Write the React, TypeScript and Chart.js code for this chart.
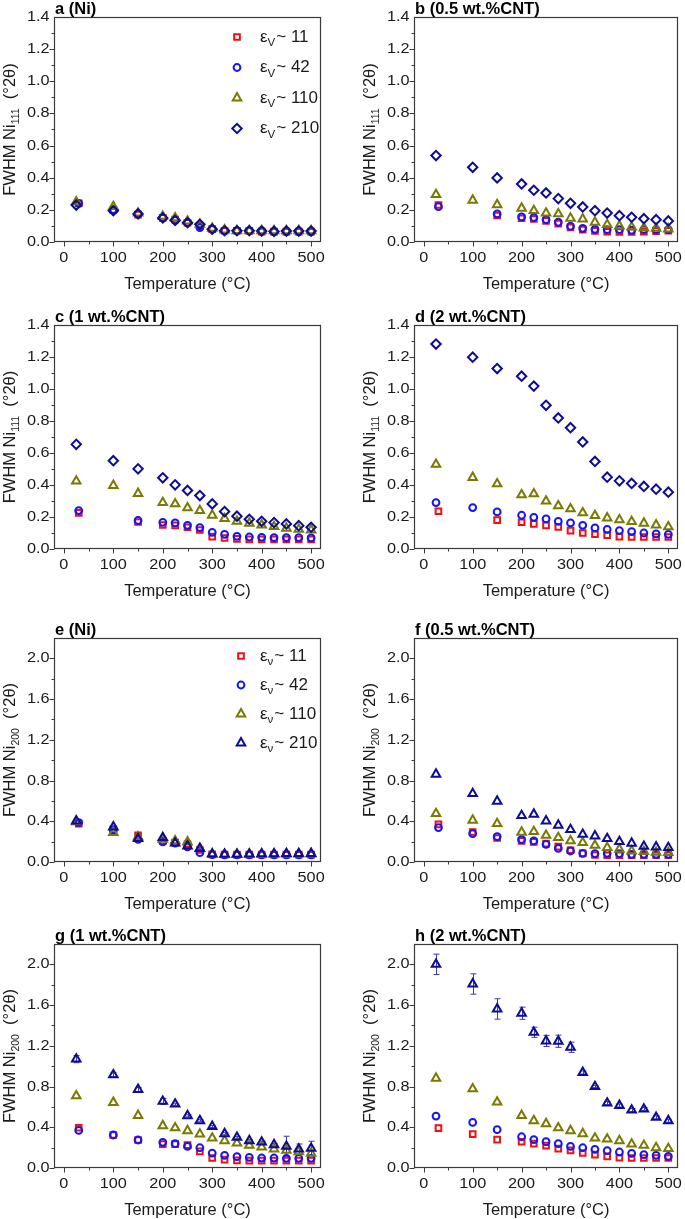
import React, { useEffect, useRef } from "react";
import { Chart, registerables } from "chart.js";

Chart.register(...registerables);

const FONT = '"Liberation Sans", Arial, Helvetica, sans-serif';

// Temperature (°C)
const temps = [25, 100, 150, 200, 225, 250, 275, 300, 325, 350, 375, 400, 425, 450, 475, 500];
const tempsShifted = [30, 100, 150, 200, 225, 250, 275, 300, 325, 350, 375, 400, 425, 450, 475, 500];

const xTickValues = [0, 100, 200, 300, 400, 500];
const yTicks111 = [0, 0.2, 0.4, 0.6, 0.8, 1.0, 1.2, 1.4];
const yTicks200 = [0, 0.4, 0.8, 1.2, 1.6, 2.0];

const strainLabels = ["11", "42", "110", "210"];

// ---- FWHM Ni(111) ----
const a11 = [0.24, 0.2, 0.17, 0.15, 0.14, 0.12, 0.1, 0.08, 0.07, 0.07, 0.07, 0.065, 0.065, 0.065, 0.065, 0.065];
const a42 = [0.24, 0.2, 0.175, 0.15, 0.135, 0.12, 0.09, 0.08, 0.07, 0.07, 0.07, 0.07, 0.065, 0.065, 0.065, 0.065];
const a110 = [0.25, 0.22, 0.18, 0.16, 0.15, 0.13, 0.11, 0.085, 0.075, 0.07, 0.07, 0.07, 0.07, 0.07, 0.07, 0.07];
const a210 = [0.23, 0.195, 0.175, 0.15, 0.135, 0.12, 0.11, 0.08, 0.07, 0.07, 0.07, 0.068, 0.066, 0.068, 0.068, 0.068];

const b11 = [0.23, null, 0.165, 0.148, 0.143, 0.131, 0.114, 0.091, 0.077, 0.069, 0.064, 0.062, 0.062, 0.065, 0.068, 0.07];
const b42 = [0.22, null, 0.175, 0.156, 0.152, 0.139, 0.123, 0.098, 0.085, 0.079, 0.077, 0.077, 0.073, 0.077, 0.077, 0.077];
const b110 = [0.295, 0.26, 0.232, 0.21, 0.195, 0.18, 0.175, 0.148, 0.143, 0.123, 0.108, 0.1, 0.093, 0.087, 0.085, 0.081];
const b210 = [0.538, 0.465, 0.399, 0.361, 0.322, 0.305, 0.27, 0.241, 0.218, 0.195, 0.18, 0.164, 0.154, 0.145, 0.139, 0.131];

const c11 = [0.226, null, 0.169, 0.15, 0.148, 0.136, 0.119, 0.077, 0.069, 0.063, 0.06, 0.06, 0.06, 0.06, 0.06, 0.06];
const c42 = [0.24, null, 0.178, 0.167, 0.163, 0.148, 0.134, 0.104, 0.092, 0.079, 0.075, 0.073, 0.071, 0.071, 0.071, 0.069];
const c110 = [0.424, 0.397, 0.347, 0.29, 0.282, 0.257, 0.24, 0.211, 0.19, 0.173, 0.161, 0.15, 0.14, 0.13, 0.123, 0.119];
const c210 = [0.654, 0.552, 0.501, 0.445, 0.401, 0.366, 0.334, 0.282, 0.234, 0.205, 0.186, 0.173, 0.165, 0.157, 0.146, 0.136];

const d11 = [0.236, null, 0.18, 0.167, 0.157, 0.148, 0.138, 0.115, 0.1, 0.092, 0.086, 0.077, 0.075, 0.075, 0.075, 0.075];
const d42 = [0.29, 0.259, 0.232, 0.211, 0.198, 0.188, 0.173, 0.163, 0.148, 0.132, 0.123, 0.115, 0.109, 0.1, 0.094, 0.092];
const d110 = [0.529, 0.447, 0.407, 0.338, 0.345, 0.299, 0.27, 0.251, 0.226, 0.209, 0.194, 0.182, 0.171, 0.161, 0.15, 0.138];
const d210 = [1.281, 1.199, 1.128, 1.08, 1.018, 0.898, 0.819, 0.758, 0.669, 0.547, 0.449, 0.426, 0.41, 0.391, 0.374, 0.355];

// ---- FWHM Ni(200) ----
const e11 = [0.377, 0.32, 0.262, 0.207, 0.19, 0.174, 0.118, 0.075, 0.072, 0.072, 0.072, 0.072, 0.072, 0.072, 0.072, 0.072];
const e42 = [0.387, 0.315, 0.223, 0.197, 0.185, 0.148, 0.092, 0.072, 0.07, 0.07, 0.07, 0.07, 0.07, 0.07, 0.07, 0.07];
const e110 = [0.395, 0.289, 0.246, 0.223, 0.207, 0.197, 0.134, 0.08, 0.075, 0.075, 0.075, 0.075, 0.078, 0.078, 0.078, 0.078];
const e210 = [0.403, 0.344, 0.23, 0.24, 0.185, 0.157, 0.131, 0.078, 0.075, 0.075, 0.078, 0.08, 0.08, 0.082, 0.082, 0.084];

const f11 = [0.37, 0.295, 0.236, 0.207, 0.197, 0.18, 0.151, 0.115, 0.085, 0.069, 0.066, 0.066, 0.066, 0.066, 0.066, 0.066];
const f42 = [0.338, 0.279, 0.249, 0.22, 0.207, 0.174, 0.134, 0.108, 0.085, 0.082, 0.085, 0.082, 0.075, 0.075, 0.075, 0.075];
const f110 = [0.475, 0.41, 0.377, 0.292, 0.298, 0.262, 0.239, 0.207, 0.19, 0.164, 0.141, 0.125, 0.108, 0.102, 0.095, 0.092];
const f210 = [0.862, 0.672, 0.597, 0.456, 0.469, 0.403, 0.361, 0.318, 0.272, 0.256, 0.23, 0.2, 0.184, 0.154, 0.148, 0.141];

const g11 = [0.395, 0.324, 0.275, 0.235, 0.235, 0.225, 0.163, 0.098, 0.082, 0.075, 0.072, 0.072, 0.072, 0.072, 0.072, 0.072];
const g42 = [0.369, 0.324, 0.275, 0.252, 0.239, 0.212, 0.199, 0.147, 0.124, 0.111, 0.105, 0.098, 0.098, 0.095, 0.095, 0.095];
const g110 = [0.709, 0.644, 0.516, 0.415, 0.395, 0.366, 0.333, 0.294, 0.268, 0.245, 0.222, 0.206, 0.186, 0.173, 0.16, 0.144];
const g210 = [1.069, 0.915, 0.771, 0.654, 0.627, 0.513, 0.464, 0.408, 0.337, 0.301, 0.268, 0.255, 0.229, 0.212, 0.186, 0.193];
const g210err = [0.035, 0.02, 0.02, 0.03, 0.01, 0.01, 0.01, 0.01, 0.01, 0.01, 0.01, 0.01, 0.01, 0.1, 0.05, 0.07];

const h11 = [0.392, 0.333, 0.278, 0.258, 0.239, 0.219, 0.19, 0.173, 0.147, 0.131, 0.114, 0.101, 0.098, 0.098, 0.098, 0.098];
const h42 = [0.51, 0.448, 0.376, 0.307, 0.278, 0.258, 0.239, 0.212, 0.199, 0.183, 0.17, 0.157, 0.144, 0.131, 0.124, 0.114];
const h110 = [0.882, 0.778, 0.647, 0.516, 0.464, 0.435, 0.395, 0.366, 0.337, 0.294, 0.284, 0.268, 0.235, 0.222, 0.199, 0.19];
const h210 = [2.0, 1.807, 1.562, 1.52, 1.333, 1.248, 1.245, 1.186, 0.938, 0.8, 0.637, 0.614, 0.569, 0.578, 0.497, 0.464];
const h210err = [0.1, 0.1, 0.1, 0.06, 0.05, 0.055, 0.06, 0.05, 0.015, 0.01, 0.015, 0.015, 0.015, 0.015, 0.015, 0.015];

const RED = "#f01010";
const BLUE = "#1414ff";
const OLIVE = "#7a7a00";
const NAVY = "#0c0c96";

type PanelCfg = {
  title: string;
  peak: string;
  series: (number | null)[][];
  blueShifted: boolean;
  err?: number[];
  legend?: { sub: string; top: number; step: number; mx: number; tx: number };
  col: number;
  row: number;
};

const panels: PanelCfg[] = [
  { title: "a (Ni)", peak: "111", series: [a11, a42, a110, a210], blueShifted: true, col: 0, row: 0,
    legend: { sub: "V", top: 20, step: 30.5, mx: 183, tx: 206 } },
  { title: "b (0.5 wt.%CNT)", peak: "111", series: [b11, b42, b110, b210], blueShifted: true, col: 1, row: 0 },
  { title: "c (1 wt.%CNT)", peak: "111", series: [c11, c42, c110, c210], blueShifted: true, col: 0, row: 1 },
  { title: "d (2 wt.%CNT)", peak: "111", series: [d11, d42, d110, d210], blueShifted: false, col: 1, row: 1 },
  { title: "e (Ni)", peak: "200", series: [e11, e42, e110, e210], blueShifted: true, col: 0, row: 2,
    legend: { sub: "\u03bd", top: 18, step: 29, mx: 187, tx: 206 } },
  { title: "f (0.5 wt.%CNT)", peak: "200", series: [f11, f42, f110, f210], blueShifted: true, col: 1, row: 2 },
  { title: "g (1 wt.%CNT)", peak: "200", series: [g11, g42, g110, g210], blueShifted: true, err: g210err, col: 0, row: 3 },
  { title: "h (2 wt.%CNT)", peak: "200", series: [h11, h42, h110, h210], blueShifted: false, err: h210err, col: 1, row: 3 },
];

const rowFrameTop = [17, 325, 638, 944];
const rowFrameH = [225, 224, 224, 224];
const colCanvasLeft = [0, 340];
const colCanvasW = [340, 345];
const colYAxisW = [54, 74];
const colPadRight = [19, 4];
const PAD_TOP = 17;
const X_AXIS_H = 52;
const TICK_FONT = `14.5px ${FONT}`;
const TICK_STRETCH = 1.12;
const MARKER_BW = 2;

function markerStyles(peak: string) {
  return [
    { color: RED, shape: "rect", r: 4.0 },
    { color: BLUE, shape: "circle", r: 3.4 },
    { color: OLIVE, shape: "triangle", r: 4.9 },
    peak === "200" ? { color: NAVY, shape: "triangle", r: 4.9 } : { color: NAVY, shape: "rectRot", r: 4.7 },
  ];
}

function drawShape(ctx: CanvasRenderingContext2D, shape: string, x: number, y: number, r: number) {
  ctx.beginPath();
  if (shape === "rect") {
    const s = Math.SQRT1_2 * r;
    ctx.rect(x - s, y - s, 2 * s, 2 * s);
  } else if (shape === "circle") {
    ctx.arc(x, y, r, 0, Math.PI * 2);
  } else if (shape === "triangle") {
    let rad = 0;
    ctx.moveTo(x + Math.sin(rad) * r, y - Math.cos(rad) * r);
    rad += (2 * Math.PI) / 3;
    ctx.lineTo(x + Math.sin(rad) * r, y - Math.cos(rad) * r);
    rad += (2 * Math.PI) / 3;
    ctx.lineTo(x + Math.sin(rad) * r, y - Math.cos(rad) * r);
    ctx.closePath();
  } else {
    ctx.moveTo(x - r, y);
    ctx.lineTo(x, y - r);
    ctx.lineTo(x + r, y);
    ctx.lineTo(x, y + r);
    ctx.closePath();
  }
  ctx.stroke();
}

function stretchedText(ctx: CanvasRenderingContext2D, text: string, x: number, y: number, align: CanvasTextAlign) {
  ctx.save();
  ctx.translate(x, y);
  ctx.scale(TICK_STRETCH, 1);
  ctx.textAlign = align;
  ctx.fillText(text, 0, 0);
  ctx.restore();
}

function buildChart(canvas: HTMLCanvasElement, p: PanelCfg) {
  const is200 = p.peak === "200";
  const yMax = is200 ? 2.2 : 1.4;
  const yTicks = is200 ? yTicks200 : yTicks111;
  const yMinorStep = is200 ? 0.2 : 0.1;
  const styles = markerStyles(p.peak);
  const yW = colYAxisW[p.col];

  const datasets = p.series.map((vals, si) => {
    const xs = si === 0 || (si === 1 && p.blueShifted) ? tempsShifted : temps;
    const st = styles[si];
    return {
      label: strainLabels[si],
      data: vals.map((v, i) => ({ x: xs[i], y: v })),
      showLine: false,
      pointStyle: st.shape,
      pointRadius: st.r,
      pointHoverRadius: st.r,
      pointBorderWidth: MARKER_BW,
      pointBorderColor: st.color,
      pointBackgroundColor: "rgba(255,255,255,0)",
      borderColor: st.color,
      backgroundColor: "rgba(255,255,255,0)",
      order: 4 - si,
    };
  });

  const deco = {
    id: "deco",
    beforeDatasetsDraw(chart: any) {
      if (!p.err) return;
      const ctx = chart.ctx as CanvasRenderingContext2D;
      const xs = chart.scales.x;
      const ys = chart.scales.y;
      ctx.save();
      ctx.strokeStyle = "#3a3ab0";
      ctx.lineWidth = 1;
      p.err.forEach((e, i) => {
        const v = p.series[3][i];
        if (v == null || !e) return;
        const px = Math.round(xs.getPixelForValue(temps[i])) + 0.5;
        const y1 = ys.getPixelForValue(v + e);
        const y2 = ys.getPixelForValue(v - e);
        ctx.beginPath();
        ctx.moveTo(px, y1);
        ctx.lineTo(px, y2);
        ctx.moveTo(px - 3, y1);
        ctx.lineTo(px + 3, y1);
        ctx.moveTo(px - 3, y2);
        ctx.lineTo(px + 3, y2);
        ctx.stroke();
      });
      ctx.restore();
    },
    afterDraw(chart: any) {
      const ctx = chart.ctx as CanvasRenderingContext2D;
      const ca = chart.chartArea;
      const xs = chart.scales.x;
      const ys = chart.scales.y;
      ctx.save();
      // frame
      const L = Math.round(ca.left) + 0.5;
      const T = Math.round(ca.top) + 0.5;
      const R = Math.round(ca.right) - 0.5;
      const B = Math.round(ca.bottom) - 0.5;
      ctx.strokeStyle = "#3a3a3a";
      ctx.lineWidth = 1.2;
      ctx.strokeRect(L, T, R - L, B - T);
      // ticks
      ctx.lineWidth = 1;
      ctx.beginPath();
      for (let v = 0; v <= 500; v += 50) {
        const px = Math.round(xs.getPixelForValue(v)) + 0.5;
        const len = v % 100 === 0 ? 5 : 3;
        ctx.moveTo(px, B);
        ctx.lineTo(px, B + len);
      }
      const nMinor = Math.round(yMax / yMinorStep);
      for (let k = 0; k < nMinor; k++) {
        const v = k * yMinorStep;
        const py = Math.round(ys.getPixelForValue(v)) + 0.5;
        const len = k % 2 === 0 ? 5 : 3;
        ctx.moveTo(L, py);
        ctx.lineTo(L - len, py);
      }
      ctx.stroke();

      // tick labels
      ctx.fillStyle = "#1a1a1a";
      ctx.font = TICK_FONT;
      ctx.textBaseline = "middle";
      xTickValues.forEach((v) => {
        stretchedText(ctx, String(v), xs.getPixelForValue(v), B + 16, "center");
      });
      yTicks.forEach((v) => {
        stretchedText(ctx, v.toFixed(1), L - 5, ys.getPixelForValue(v), "right");
      });

      // panel title
      ctx.fillStyle = "#000";
      ctx.font = `bold 16.5px ${FONT}`;
      ctx.textBaseline = "alphabetic";
      ctx.textAlign = "left";
      ctx.fillText(p.title, ca.left + 1, ca.top - 3);

      // x title
      ctx.font = `16.5px ${FONT}`;
      ctx.textAlign = "center";
      ctx.textBaseline = "middle";
      ctx.fillStyle = "#1a1a1a";
      ctx.fillText("Temperature (\u00b0C)", (ca.left + ca.right) / 2, ca.bottom + 42);

      // y title with subscript
      ctx.save();
      ctx.translate(ca.left - 44, (ca.top + ca.bottom) / 2);
      ctx.rotate(-Math.PI / 2);
      ctx.textAlign = "left";
      const main = "FWHM Ni";
      const tail = "  (\u00b02\u03b8)";
      ctx.font = `16.5px ${FONT}`;
      const w1 = ctx.measureText(main).width;
      const w3 = ctx.measureText(tail).width;
      ctx.font = `10.5px ${FONT}`;
      const w2 = ctx.measureText(p.peak).width;
      const total = w1 + w2 + w3;
      const x0 = -total / 2;
      ctx.font = `16.5px ${FONT}`;
      ctx.fillText(main, x0, 0);
      ctx.font = `10.5px ${FONT}`;
      ctx.fillText(p.peak, x0 + w1, 6);
      ctx.font = `16.5px ${FONT}`;
      ctx.fillText(tail, x0 + w1 + w2, 0);
      ctx.restore();

      // legend
      if (p.legend) {
        const lg = p.legend;
        styles.forEach((st, i) => {
          const y = ca.top + lg.top + i * lg.step;
          ctx.strokeStyle = st.color;
          ctx.lineWidth = MARKER_BW;
          drawShape(ctx, st.shape, ca.left + lg.mx, y, st.r);
          ctx.fillStyle = "#1a1a1a";
          ctx.textAlign = "left";
          ctx.textBaseline = "middle";
          let tx = ca.left + lg.tx;
          ctx.font = `17px ${FONT}`;
          ctx.fillText("\u03b5", tx, y);
          tx += ctx.measureText("\u03b5").width;
          ctx.font = `11.5px ${FONT}`;
          ctx.fillText(lg.sub, tx, y + 6);
          tx += ctx.measureText(lg.sub).width + 1;
          ctx.font = `17px ${FONT}`;
          ctx.fillText("~ " + strainLabels[i], tx, y);
        });
      }
      ctx.restore();
    },
  };

  return new Chart(canvas, {
    type: "scatter",
    data: { datasets: datasets as any },
    plugins: [deco],
    options: {
      animation: false,
      responsive: false,
      devicePixelRatio: 1,
      events: [],
      layout: { padding: { top: PAD_TOP, right: colPadRight[p.col], left: 0, bottom: 0 } },
      plugins: { legend: { display: false }, tooltip: { enabled: false }, title: { display: false } },
      scales: {
        x: {
          type: "linear",
          min: -20,
          max: 520,
          grid: { display: false },
          border: { display: false },
          afterBuildTicks: (s: any) => {
            s.ticks = xTickValues.map((v) => ({ value: v }));
          },
          afterFit: (s: any) => {
            s.height = X_AXIS_H;
          },
          ticks: { display: false },
        },
        y: {
          type: "linear",
          min: 0,
          max: yMax,
          grid: { display: false },
          border: { display: false },
          afterBuildTicks: (s: any) => {
            s.ticks = yTicks.map((v) => ({ value: v }));
          },
          afterFit: (s: any) => {
            s.width = yW;
          },
          ticks: { display: false },
        },
      },
    } as any,
  });
}

function PanelChart({ p }: { p: PanelCfg }) {
  const ref = useRef<HTMLCanvasElement>(null);
  const w = colCanvasW[p.col];
  const h = PAD_TOP + rowFrameH[p.row] + X_AXIS_H;
  const left = colCanvasLeft[p.col];
  const top = rowFrameTop[p.row] - PAD_TOP;
  useEffect(() => {
    if (!ref.current) return;
    const chart = buildChart(ref.current, p);
    return () => chart.destroy();
  }, []);
  return (
    <canvas
      ref={ref}
      width={w}
      height={h}
      style={{ position: "absolute", left, top, width: w, height: h, display: "block" }}
    />
  );
}

export default function App() {
  return (
    <div style={{ position: "absolute", left: 0, top: 0, width: 685, height: 1219, background: "#fff", overflow: "hidden" }}>
      {panels.map((p, i) => (
        <PanelChart key={i} p={p} />
      ))}
    </div>
  );
}
